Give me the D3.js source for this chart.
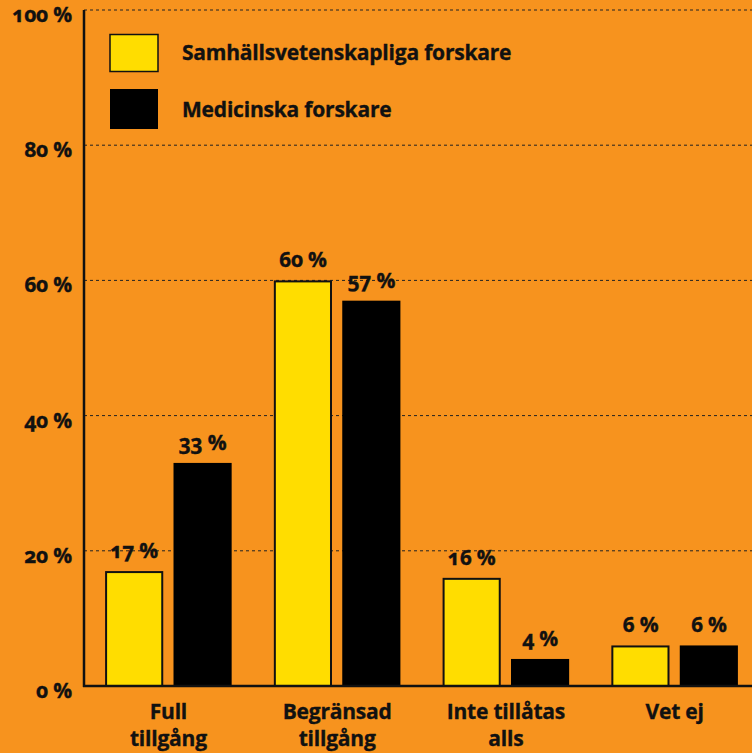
<!DOCTYPE html>
<html><head><meta charset="utf-8">
<script src="https://cdn.jsdelivr.net/npm/d3@7"></script>
<style>
html,body{margin:0;padding:0;background:#F7931E;}
svg{display:block;}
text{font-family:"Open Sans","Noto Sans",sans-serif;font-weight:700;fill:#111;font-feature-settings:"onum" 1;font-variant-numeric:oldstyle-nums;letter-spacing:-0.2px;stroke:#111;stroke-width:0.35px;}
</style></head>
<body>
<svg id="chart" width="752" height="753"></svg>
<script>
const categories = [["Full","tillgång"],["Begränsad","tillgång"],["Inte tillåtas","alls"],["Vet ej"]];
const seriesNames = ["Samhällsvetenskapliga forskare","Medicinska forskare"];
const samhall = [17, 60, 16, 6];
const medicin = [33, 57, 4, 6];
const yTicks = [0, 20, 40, 60, 80, 100];
const colors = ["#FFDD00", "#000000"];

(function(){
const svg = d3.select("#chart");
const W = 752, H = 753;
const mLeft = 84, mBottom = 686, mTop = 10;
svg.append("rect").attr("width", W).attr("height", H).attr("fill", "#F7931E");

const y = d3.scaleLinear().domain([0, 100]).range([mBottom, mTop]);
const x0 = d3.scaleBand().domain(d3.range(categories.length)).range([mLeft, 759]).paddingInner(0.25).paddingOuter(0.125);
const x1 = d3.scaleBand().domain([0, 1]).range([0, x0.bandwidth()]).paddingInner(0.15);

// gridlines
svg.append("g").selectAll("line").data(yTicks.filter(d => d > 0)).join("line")
  .attr("x1", mLeft).attr("x2", W).attr("y1", d => y(d)).attr("y2", d => y(d))
  .attr("stroke", "#222").attr("stroke-width", 1).attr("stroke-dasharray", "3,3");

// y tick labels
svg.append("g").selectAll("text").data(yTicks).join("text")
  .attr("x", 72).attr("y", d => y(d) + 12).attr("text-anchor", "end")
  .attr("font-size", 21).text(d => d + " %");

const data = categories.map((c, i) => [samhall[i], medicin[i]]);
const groups = svg.append("g").selectAll("g").data(data).join("g")
  .attr("transform", (d, i) => `translate(${x0(i)},0)`);
groups.selectAll("rect").data(d => d).join("rect")
  .attr("x", (d, j) => x1(j) + (j === 0 ? 1 : 0)).attr("width", (d, j) => x1.bandwidth() - (j === 0 ? 2 : 0))
  .attr("y", (d, j) => y(d) + (j === 0 ? 1 : 0)).attr("height", (d, j) => y(0) - y(d) - (j === 0 ? 1 : 0))
  .attr("fill", (d, j) => colors[j])
  .attr("stroke", (d, j) => j === 0 ? "#111" : "none").attr("stroke-width", 2);
groups.selectAll("text").data(d => d).join("text")
  .attr("x", (d, j) => x1(j) + x1.bandwidth() / 2).attr("y", d => y(d) - 13)
  .attr("text-anchor", "middle").attr("font-size", 21).text(d => d + " %");

// axes
svg.append("line").attr("x1", mLeft).attr("x2", mLeft).attr("y1", mTop).attr("y2", mBottom + 1)
  .attr("stroke", "#111").attr("stroke-width", 2.5);
svg.append("line").attr("x1", mLeft - 1).attr("x2", W).attr("y1", mBottom).attr("y2", mBottom)
  .attr("stroke", "#111").attr("stroke-width", 2.5);

// category labels
const cl = svg.append("g").selectAll("text").data(categories).join("text")
  .attr("text-anchor", "middle").attr("font-size", 21)
  .attr("transform", (d, i) => `translate(${x0(i) + x0.bandwidth() / 2},719)`);
cl.selectAll("tspan").data(d => d).join("tspan")
  .attr("x", 0).attr("y", (d, k) => k * 27).text(d => d);

// legend
const lg = svg.append("g").selectAll("g").data(seriesNames).join("g")
  .attr("transform", (d, i) => `translate(110,${34 + i * 55})`);
lg.append("rect").attr("x", 0).attr("y", (d, i) => i === 0 ? 0.5 : 0).attr("width", 48).attr("height", (d, i) => i === 0 ? 37 : 40)
  .attr("fill", (d, i) => colors[i]).attr("stroke", (d, i) => i === 0 ? "#111" : "none").attr("stroke-width", 1.5);
lg.append("text").attr("x", 72).attr("y", (d, i) => i === 0 ? 26 : 28).attr("font-size", 21).text(d => d);
})();
</script>
</body></html>
